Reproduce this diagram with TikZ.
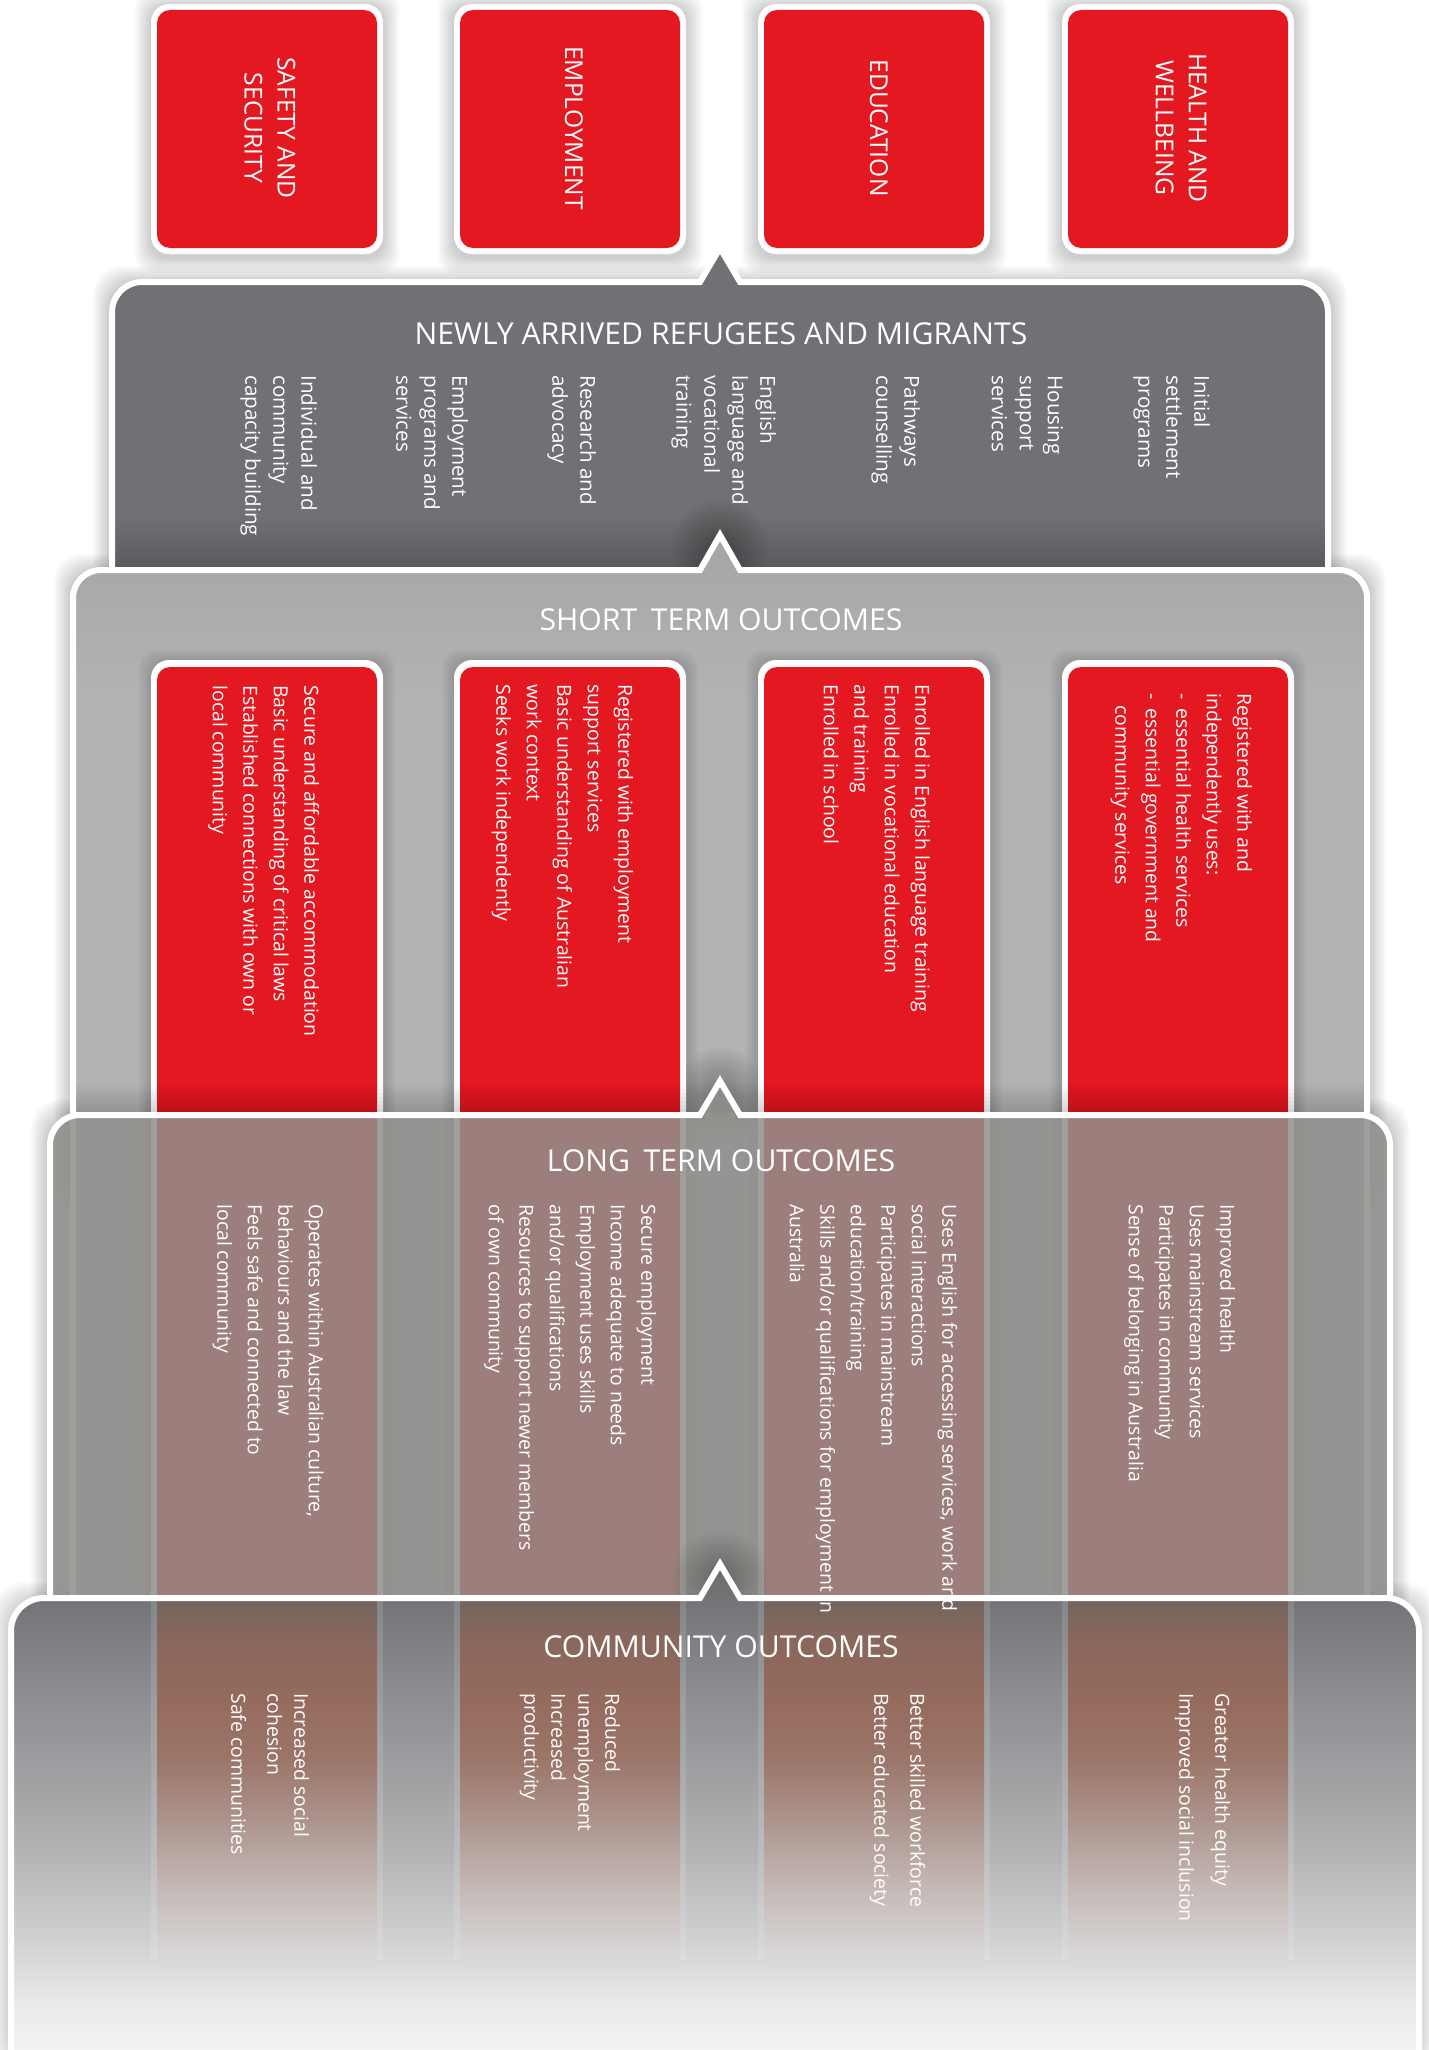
\documentclass[tikz,border=0pt]{standalone}
\usepackage{fontspec}
\setmainfont{Open Sans}
\definecolor{rb}{HTML}{E41820}
\definecolor{gA}{HTML}{717074}
\definecolor{gAd}{HTML}{58585B}
\definecolor{gB}{HTML}{B3B3B5}
\definecolor{gBt}{HTML}{A5A5A7}
\definecolor{gC}{HTML}{91908D}
\definecolor{d0}{HTML}{69696C}
\definecolor{d1}{HTML}{7E7F82}
\definecolor{d2}{HTML}{8E8F92}
\definecolor{d3}{HTML}{A0A1A3}
\definecolor{d4}{HTML}{B6B6B8}
\definecolor{d5}{HTML}{D1D1D2}
\definecolor{d6}{HTML}{E9E9E9}
\definecolor{d7}{HTML}{F7F7F7}
\definecolor{r0}{HTML}{716560}
\definecolor{r1}{HTML}{8A675C}
\definecolor{r2}{HTML}{956B5E}
\definecolor{r3}{HTML}{9C766A}
\definecolor{r4}{HTML}{AC948D}
\definecolor{r5}{HTML}{C2B5B1}
\definecolor{r6}{HTML}{D4D1D1}
\definecolor{r7}{HTML}{DEDEDE}
% big box outline: L R T B radius notch-peak
\newcommand\bbpath[6]{(#1,#4) -- (#1,{#3+#5}) .. controls (#1,{#3+0.4477*#5}) and ({#1+0.4477*#5},#3) .. ({#1+#5},#3) -- (700,#3) -- (720,#6) -- (740,#3) -- ({#2-#5},#3) .. controls ({#2-0.4477*#5},#3) and (#2,{#3+0.4477*#5}) .. (#2,{#3+#5}) -- (#2,#4)}
\newcommand\softglow[6]{\foreach \e in {1,...,8}{\fill[black,fill opacity=#6,rounded corners=#5] ({#1-2*\e},{#2-2*\e+3}) rectangle ({#3+2*\e},{#4+2*\e+3});}}
\newcommand\notchglow[2]{\foreach \r in {6,9,...,48}{\fill[black,fill opacity=0.02] (#1,#2) circle (\r);}}
\tikzset{
 vt/.style={rotate=-90, anchor=north west, inner sep=0pt, align=left, text=white, font=\fontsize{10.3}{14}\selectfont},
 vs/.style={vt, font=\fontsize{9.7}{15.25}\selectfont},
 vc/.style={vt, font=\fontsize{9.7}{13.5}\selectfont},
 vcw/.style={vt, font=\fontsize{9.7}{18}\selectfont},
 boxcap/.style={rotate=-90, inner sep=0pt, align=center, text=white, font=\fontsize{12.3}{16.5}\selectfont},
 ttl/.style={anchor=base, inner sep=0pt, text=white, font=\fontsize{15.1}{17}\selectfont},
}
\begin{document}
\begin{tikzpicture}[x=0.5pt,y=-0.5pt]
\fill[white] (0,0) rectangle (1429,2050);
\useasboundingbox (0,0) rectangle (1429,2050);
% ---------- soft shadows
\foreach \x in {157,460,764,1068}{\softglow{\x-6}{4}{\x+226}{254}{9pt}{0.022}}
\softglow{109}{279}{1331}{700}{15pt}{0.022}
\softglow{70}{567}{1370}{1200}{14pt}{0.022}
\softglow{47}{1112}{1393}{1700}{15pt}{0.022}
\softglow{8}{1595}{1421}{2060}{16pt}{0.018}
% ---------- top red boxes
\foreach \x in {157,460,764,1068}{
 \fill[white, rounded corners=9pt] ({\x-6},4) rectangle ({\x+226},254);
 \fill[rb, rounded corners=6.5pt] (\x,10) rectangle ({\x+220},248);
}
% ---------- box A
\fill[gA] \bbpath{112}{1328}{282}{640}{30}{248} -- cycle;
\shade[top color=gA, bottom color=gAd] (115,515) rectangle (1325,572);
\notchglow{720}{548}
\draw[white, line width=3pt] \bbpath{112}{1328}{282}{640}{30}{248};
% ---------- box B
\fill[gB] \bbpath{73}{1367}{570}{1640}{28}{535} -- cycle;
\begin{scope}
 \clip \bbpath{73}{1367}{570}{1640}{28}{535} -- cycle;
 \shade[top color=gBt, bottom color=gB] (0,530) rectangle (1429,700);
\end{scope}
\notchglow{720}{1095}
\foreach \x in {157,460,764,1068}{
 \foreach \e in {1,...,6}{\fill[black,fill opacity=0.025,rounded corners=9pt] ({\x-6-2*\e},{660-2*\e+2}) rectangle ({\x+226+2*\e},1640);}
}
% ---------- red columns
\foreach \x in {157,460,764,1068}{
 \fill[white, rounded corners=9pt] ({\x-6},660) rectangle ({\x+226},1640);
 \fill[rb, rounded corners=6.5pt] (\x,667) rectangle ({\x+220},1640);
}
\foreach \k in {1,...,7}{\fill[black,fill opacity=0.025] (73,{1113-4*\k}) rectangle (1367,1113);}
\draw[white, line width=3pt] \bbpath{73}{1367}{570}{1640}{28}{535};
% ---------- box C (translucent)
\fill[gC, fill opacity=0.86] \bbpath{50}{1390}{1115}{1660}{30}{1081} -- cycle;
\notchglow{720}{1578}
\draw[white, line width=3pt] \bbpath{50}{1390}{1115}{1660}{30}{1081};
% ---------- box D (fading)
\begin{scope}
 \clip \bbpath{11}{1419}{1598}{2070}{33}{1564} -- cycle;
 \shade[top color=d0, bottom color=d1] (0,1555) rectangle (1429,1641);
 \shade[top color=d1, bottom color=d2] (0,1640) rectangle (1429,1701);
 \shade[top color=d2, bottom color=d3] (0,1700) rectangle (1429,1781);
 \shade[top color=d3, bottom color=d4] (0,1780) rectangle (1429,1861);
 \shade[top color=d4, bottom color=d5] (0,1860) rectangle (1429,1941);
 \shade[top color=d5, bottom color=d6] (0,1940) rectangle (1429,2001);
 \shade[top color=d6, bottom color=d7] (0,2000) rectangle (1429,2070);
 \foreach \x in {157,460,764,1068}{
  \shade[top color=r0, bottom color=r1] (\x,1598) rectangle ({\x+220},1641);
  \shade[top color=r1, bottom color=r2] (\x,1640) rectangle ({\x+220},1701);
  \shade[top color=r2, bottom color=r3] (\x,1700) rectangle ({\x+220},1761);
  \shade[top color=r3, bottom color=r4] (\x,1760) rectangle ({\x+220},1821);
  \shade[top color=r4, bottom color=r5] (\x,1820) rectangle ({\x+220},1881);
  \shade[top color=r5, bottom color=r6] (\x,1880) rectangle ({\x+220},1941);
  \shade[top color=r6, bottom color=r7] (\x,1940) rectangle ({\x+220},1975);
  \fill[white, fill opacity=0.13] ({\x-6},1601) rectangle (\x,1960);
  \fill[white, fill opacity=0.13] ({\x+220},1601) rectangle ({\x+226},1960);
 }
\end{scope}
\draw[white, line width=3pt] \bbpath{11}{1419}{1598}{2070}{33}{1564};
% ---------- top box captions
\node[boxcap] (h1) at (270,128) {SAFETY AND\\SECURITY};
\node[boxcap] (h2) at (574,128) {EMPLOYMENT};
\node[boxcap] (h3) at (879,128) {EDUCATION};
\node[boxcap] (h4) at (1181,128) {HEALTH AND\\WELLBEING};
% ---------- titles
\node[ttl] (tA) at (721,344) {NEWLY ARRIVED REFUGEES AND MIGRANTS};
\node[ttl] (tB) at (721,630) {SHORT\hspace{0.45em}TERM OUTCOMES};
\node[ttl] (tC) at (721,1171) {LONG\hspace{0.45em}TERM OUTCOMES};
\node[ttl] (tD) at (721,1657) {COMMUNITY OUTCOMES};
% ---------- services
\node[vt] (ini) at (1210.5,375) {Initial\\settlement\\programs};
\node[vt] (hou) at (1063.5,375) {Housing\\support\\services};
\node[vt] (pat) at (920.5,375) {Pathways\\counselling};
\node[vt] (eng) at (776.5,375) {English\\language and\\vocational\\training};
\node[vt] (res) at (596.5,375) {Research and\\advocacy};
\node[vt] (emp) at (468.5,375) {Employment\\programs and\\services};
\node[vt] (ind) at (317.5,375) {Individual and\\community\\capacity building};
% ---------- short term
\node[vs] (s1) at (319.5,685) {Secure and affordable accommodation\\Basic understanding of critical laws\\Established connections with own or\\local community};
\node[vs] (s2) at (633.5,684) {Registered with employment\\support services\\Basic understanding of Australian\\work context\\Seeks work independently};
\node[vs] (s3) at (930.5,684) {Enrolled in English language training\\Enrolled in vocational education\\and training\\Enrolled in school};
\node[vs] (s4) at (1252.5,693) {Registered with and\\independently uses:\\\makebox[7.5pt][l]{-}essential health services\\\makebox[7.5pt][l]{-}essential government and\\\hspace*{6pt}community services};
% ---------- long term
\node[vs] (l1) at (324,1204) {Operates within Australian culture,\\behaviours and the law\\Feels safe and connected to\\local community};
\node[vs] (l2) at (656.5,1204) {Secure employment\\Income adequate to needs\\Employment uses skills\\and/or qualifications\\Resources to support newer members\\of own community};
\node[vs] (l3) at (957.5,1204) {Uses English for accessing services, work and\\social interactions\\Participates in mainstream\\education/training\\Skills and/or qualifications for employment in\\Australia};
\node[vs] (l4) at (1235.5,1204) {Improved health\\Uses mainstream services\\Participates in community\\Sense of belonging in Australia};
% ---------- community
\node[vc] (c1) at (309.5,1693) {Increased social\\cohesion\\[4.5pt]Safe communities};
\node[vc] (c2) at (620.5,1693) {Reduced\\unemployment\\Increased\\productivity};
\node[vcw] (c3) at (925.5,1693) {Better skilled workforce\\Better educated society};
\node[vcw] (c4) at (1230.5,1693) {Greater health equity\\Improved social inclusion};
\end{tikzpicture}
\end{document}
